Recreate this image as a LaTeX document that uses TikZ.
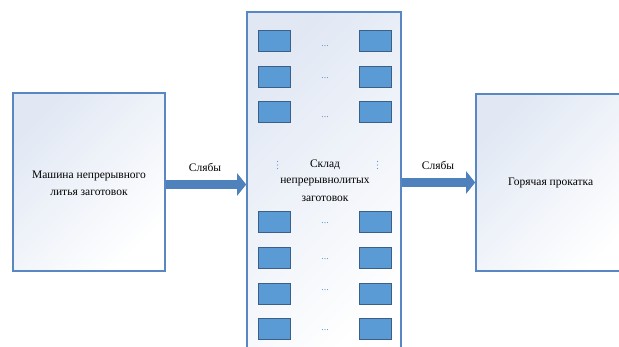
\documentclass[tikz,border=0pt]{standalone}
\usepackage{fontspec}
\setmainfont{Liberation Serif}
\usetikzlibrary{arrows.meta,shadows}
\definecolor{boxblue}{RGB}{88,135,195}
\definecolor{cellblue}{RGB}{91,155,213}
\definecolor{celledge}{RGB}{60,95,135}
\definecolor{arrowblue}{RGB}{79,129,189}
\definecolor{shadeblue}{RGB}{225,232,244}
\definecolor{dotblue}{RGB}{100,150,210}
\tikzset{
  bigbox/.style={draw=boxblue, line width=1.6pt, top color=shadeblue, bottom color=white, shading angle=45, inner sep=0pt, align=center},
  cell/.style={draw=celledge, fill=cellblue, line width=0.8pt, minimum width=32pt, minimum height=21pt, inner sep=0pt, drop shadow={opacity=0.25, shadow xshift=0.6pt, shadow yshift=-0.6pt}},
  hdots/.style={text=dotblue, font=\fontsize{10}{10}\selectfont, inner sep=0pt},
  vdot/.style={fill=dotblue},
  flow/.style={draw=arrowblue, line width=9pt, -{Triangle[length=9pt,width=22pt,fill=arrowblue]}},
  lbl/.style={font=\fontsize{11.5}{17}\selectfont, inner sep=0pt, align=center},
}
\begin{document}
\begin{tikzpicture}[x=1pt,y=-1pt]
\useasboundingbox (0,0) rectangle (619,347);
\clip (0,0) rectangle (619,347);
\fill[white] (0,0) rectangle (619,347);
% boxes
\node[bigbox, minimum width=152pt, minimum height=178pt] (lbox) at (89,182) {};
\node[bigbox, minimum width=154pt, minimum height=350pt] (mid) at (324,187) {};
\node[bigbox, minimum width=160pt, minimum height=177pt] (rbox) at (556,182.5) {};
% texts
\node[lbl] (ltext) at (89,183.5) {Машина непрерывного\\литья заготовок};
\node[lbl] (mtext1) at (325,165) {Склад};
\node[lbl] (mtext2) at (325,182) {непрерывнолитых};
\node[lbl] (mtext3) at (325,198.5) {заготовок};
\node[lbl, anchor=west] (rtext) at (508,183) {Горячая прокатка};
% cells
\foreach \y [count=\i] in {40.5,76.5,111.5,221.5,257.5,293.5,328.5}{
  \node[cell] (cl\i) at (274.5,\y) {};
  \node[cell] (cr\i) at (375,\y) {};
}
\node[hdots] (d1) at (325,46) {...};
\node[hdots] (d2) at (325,78) {...};
\node[hdots] (d3) at (325,117) {...};
\node[hdots] (d4) at (325,223) {...};
\node[hdots] (d5) at (325,259) {...};
\node[hdots] (d6) at (325,290) {...};
\node[hdots] (d7) at (325,330) {...};
\foreach \x in {277.5,377.5}{
  \foreach \y in {161.5,165,168.5}{
    \fill[vdot] (\x,\y) circle (0.65pt);
  }
}
% arrows
\draw[flow] (lbox.east |- 0,184.5) -- (mid.west |- 0,184.5);
\draw[flow] (mid.east |- rbox.west) -- (rbox.west);
\node[lbl] (s1) at (205,167) {Слябы};
\node[lbl] (s2) at (438,165) {Слябы};
\end{tikzpicture}
\end{document}
